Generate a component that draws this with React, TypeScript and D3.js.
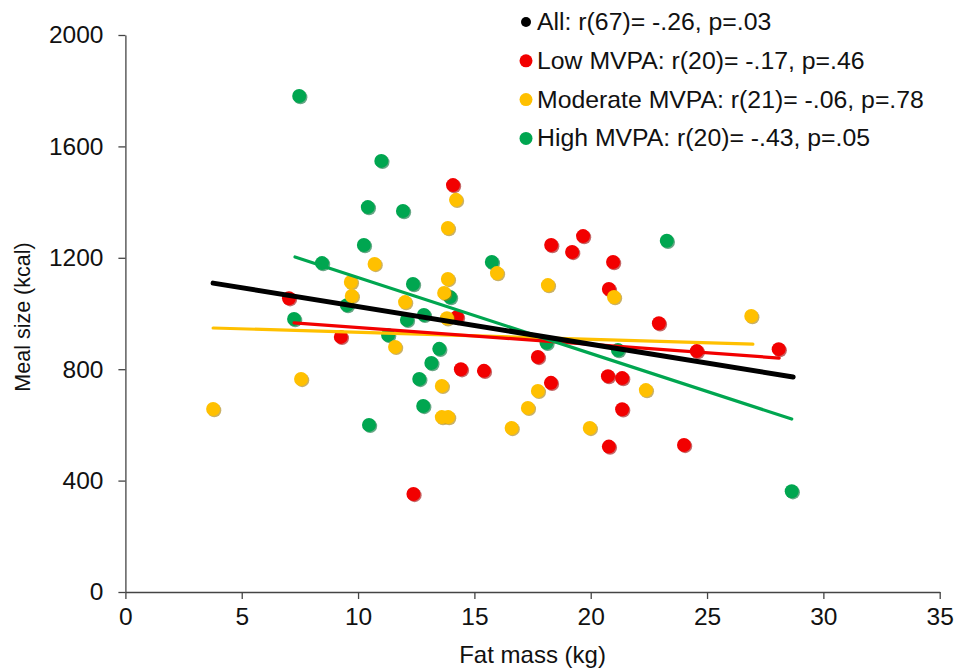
import React, { useEffect, useRef } from "react";
import * as d3 from "d3";

// fat mass (kg) and meal size (kcal)
const lowX = [14.08, 7.03, 14.25, 9.26, 14.42, 15.41, 12.38, 18.3, 19.67, 19.2, 20.96, 20.78, 22.93, 24.56, 28.08, 17.73, 18.29, 20.74, 21.35, 21.35, 20.78, 24.01];
const lowY = [1461, 1055, 987, 916, 800, 794, 352, 1246, 1278, 1221, 1185, 1088, 965, 865, 872, 844, 751, 775, 768, 656, 522, 528];

const highX = [7.47, 11.0, 10.42, 11.93, 10.25, 8.45, 12.36, 13.95, 7.25, 9.52, 12.1, 12.83, 11.29, 13.49, 13.15, 12.63, 12.8, 10.47, 15.75, 23.27, 18.1, 21.17, 28.64];
const highY = [1781, 1548, 1382, 1368, 1246, 1181, 1106, 1059, 980, 1030, 977, 995, 923, 873, 822, 765, 668, 600, 1185, 1261, 895, 869, 362];

const modX = [14.21, 13.86, 10.71, 9.69, 9.73, 12.02, 13.86, 13.7, 13.82, 11.59, 7.55, 3.77, 13.6, 13.6, 13.87, 15.97, 18.16, 21.0, 26.9, 17.73, 17.3, 16.6, 19.96, 22.37];
const modY = [1408, 1307, 1178, 1113, 1063, 1041, 1124, 1074, 983, 880, 765, 657, 740, 628, 628, 1145, 1102, 1059, 991, 722, 661, 589, 589, 725];

// trend line ends: [x0, y0, x1, y1]
const allTrend = [3.77, 1109, 28.7, 772];
const lowTrend = [7.25, 966, 28.1, 840];
const modTrend = [3.77, 948, 26.97, 890];
const highTrend = [7.29, 1203, 28.64, 621];

const legendLabels = [
  "All: r(67)= -.26, p=.03",
  "Low MVPA: r(20)= -.17, p=.46",
  "Moderate MVPA: r(21)= -.06, p=.78",
  "High MVPA: r(20)= -.43, p=.05",
];

const xTicks = [0, 5, 10, 15, 20, 25, 30, 35];
const yTicks = [0, 400, 800, 1200, 1600, 2000];

const RED = "#F20000";
const GOLD = "#FFC000";
const GREEN = "#00A650";
const FONT = "'Liberation Sans', Arial, sans-serif";

const App = () => {
  const ref = useRef<SVGSVGElement>(null);

  useEffect(() => {
    const svg = d3.select(ref.current);
    svg.selectAll("*").remove();

    const x = d3.scaleLinear().domain([0, 35]).range([125.4, 939.7]);
    const y = d3.scaleLinear().domain([0, 2000]).range([592, 35]);

    // axes
    const xAxis = svg
      .append("g")
      .attr("transform", `translate(0, ${y(0)})`)
      .call(d3.axisBottom(x).tickValues(xTicks).tickFormat(d3.format("d")).tickSize(7).tickSizeOuter(0));
    const yAxis = svg
      .append("g")
      .attr("transform", `translate(${x(0)}, 0)`)
      .call(d3.axisLeft(y).tickValues(yTicks).tickFormat(d3.format("d")).tickSize(7).tickSizeOuter(0));
    [xAxis, yAxis].forEach((g) => {
      g.select(".domain").attr("stroke", "#444").attr("stroke-width", 1.3);
      g.selectAll(".tick line").attr("stroke", "#444").attr("stroke-width", 1.3);
      g.selectAll(".tick text")
        .attr("fill", "#111")
        .style("font-family", FONT)
        .style("font-size", "24.5px");
    });
    xAxis.selectAll(".tick text").attr("dy", "0.71em").attr("y", 16);
    yAxis.selectAll(".tick text").attr("x", -22);

    svg
      .append("text")
      .attr("x", (x(0) + x(35)) / 2)
      .attr("y", 663)
      .attr("text-anchor", "middle")
      .attr("fill", "#111")
      .style("font-family", FONT)
      .style("font-size", "24px")
      .text("Fat mass (kg)");

    svg
      .append("text")
      .attr("transform", "translate(30, 317) rotate(-90)")
      .attr("text-anchor", "middle")
      .attr("fill", "#111")
      .style("font-family", FONT)
      .style("font-size", "21.5px")
      .text("Meal size (kcal)");

    // points
    const groups = [
      { xs: lowX, ys: lowY, color: RED },
      { xs: highX, ys: highY, color: GREEN },
      { xs: modX, ys: modY, color: GOLD },
    ];
    groups.forEach((grp) => {
      const pts = grp.xs.map((v, i) => [v, grp.ys[i]]);
      const g = svg.append("g");
      g.selectAll("circle.shadow")
        .data(pts)
        .enter()
        .append("circle")
        .attr("cx", (d) => x(d[0]) + 1.2)
        .attr("cy", (d) => y(d[1]) + 1.2)
        .attr("r", 7)
        .attr("fill", d3.color(grp.color)!.darker(1.2).toString())
        .attr("opacity", 0.6);
      g.selectAll("circle.dot")
        .data(pts)
        .enter()
        .append("circle")
        .attr("cx", (d) => x(d[0]))
        .attr("cy", (d) => y(d[1]))
        .attr("r", 7)
        .attr("fill", grp.color);
    });

    // trend lines
    const trends = [
      { t: modTrend, color: GOLD, w: 3.2 },
      { t: lowTrend, color: RED, w: 3.2 },
      { t: highTrend, color: GREEN, w: 3.2 },
      { t: allTrend, color: "#000", w: 5 },
    ];
    trends.forEach(({ t, color, w }) => {
      svg
        .append("line")
        .attr("x1", x(t[0]))
        .attr("y1", y(t[1]))
        .attr("x2", x(t[2]))
        .attr("y2", y(t[3]))
        .attr("stroke", color)
        .attr("stroke-width", w)
        .attr("stroke-linecap", "round");
    });

    // legend
    const legendColors = ["#000", RED, GOLD, GREEN];
    const legend = svg.append("g");
    legendLabels.forEach((label, i) => {
      const by = 30 + i * 38.8;
      legend
        .append("circle")
        .attr("cx", 526)
        .attr("cy", by - 8)
        .attr("r", i === 0 ? 5 : 6.5)
        .attr("fill", legendColors[i]);
      legend
        .append("text")
        .attr("x", 537)
        .attr("y", by)
        .attr("fill", "#111")
        .style("font-family", FONT)
        .style("font-size", "24.8px")
        .text(label);
    });
  }, []);

  return (
    <div style={{ position: "absolute", left: 0, top: 0, background: "#fff" }}>
      <svg ref={ref} width={958} height={668}></svg>
    </div>
  );
};

export default App;
